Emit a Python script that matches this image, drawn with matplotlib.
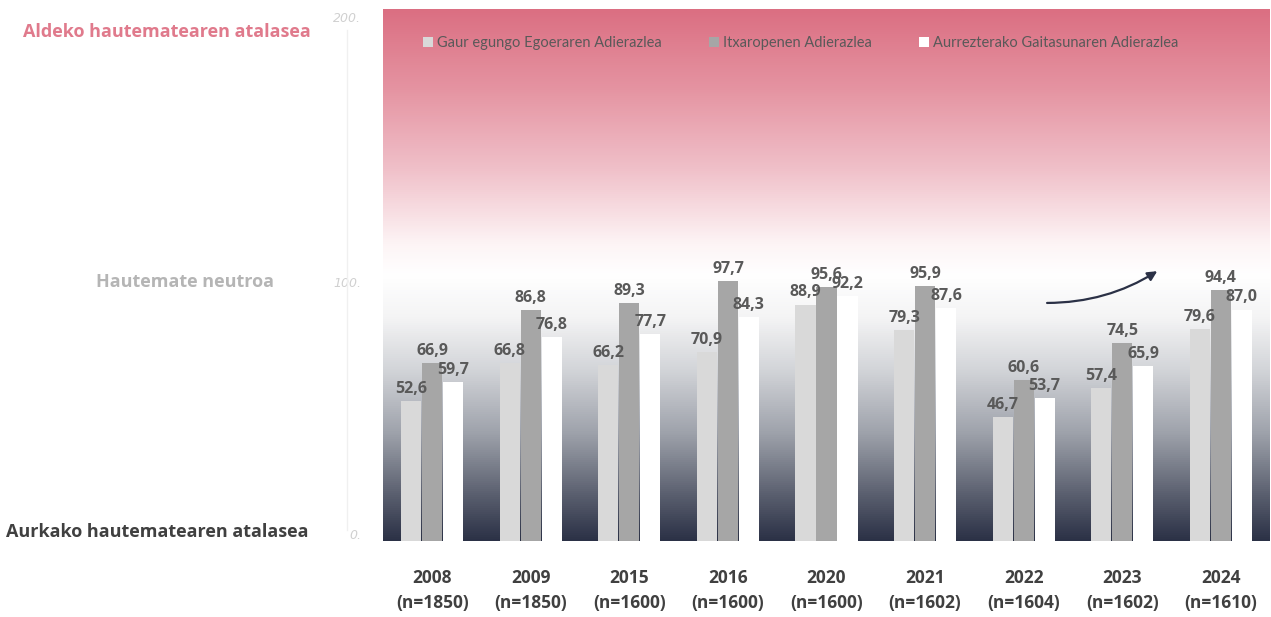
import numpy as np
import matplotlib.pyplot as plt
from matplotlib.colors import LinearSegmentedColormap
from matplotlib.patches import FancyArrowPatch
from matplotlib.lines import Line2D

# data
years = ['2008', '2009', '2015', '2016', '2020', '2021', '2022', '2023', '2024']
sizes = ['1850', '1850', '1600', '1600', '1600', '1602', '1604', '1602', '1610']
gaur = [52.6, 66.8, 66.2, 70.9, 88.9, 79.3, 46.7, 57.4, 79.6]
itxaropen = [66.9, 86.8, 89.3, 97.7, 95.6, 95.9, 60.6, 74.5, 94.4]
aurrezterako = [59.7, 76.8, 77.7, 84.3, 92.2, 87.6, 53.7, 65.9, 87.0]
series_names = ['Gaur egungo Egoeraren Adierazlea', 'Itxaropenen Adierazlea',
                'Aurrezterako Gaitasunaren Adierazlea']
colors = ['#d9d9d9', '#a6a6a6', '#ffffff']

fig = plt.figure(figsize=(12.71, 6.17), dpi=100)
ax = fig.add_axes([383 / 1271, 1 - 541 / 617, 887 / 1271, 532 / 617])

# background gradient (dark at the bottom, white in the middle, pink at the top)
bg = LinearSegmentedColormap.from_list('bg', [
    (0.0, '#2b3146'), (0.08, '#575c6c'), (0.2, '#9da1aa'), (0.32, '#d2d4d8'),
    (0.42, '#f4f4f5'), (0.5, '#ffffff'), (0.56, '#fdf4f5'), (0.7, '#f0c0c9'),
    (0.85, '#e594a2'), (1.0, '#db6f82')])
grad = np.linspace(0, 1, 512).reshape(-1, 1)
ax.imshow(grad, cmap=bg, aspect='auto', origin='lower',
          extent=[-0.5, len(years) - 0.5, 0, 200], zorder=0)

x = np.arange(len(years))
w = 0.205
off = 0.213
for i, (vals, c, name) in enumerate(zip([gaur, itxaropen, aurrezterako], colors, series_names)):
    pos = x + (i - 1) * off
    ax.bar(pos, vals, width=w, color=c, zorder=2, label=name)
    for px, v in zip(pos, vals):
        ax.annotate(f'{v:.1f}'.replace('.', ','), (px, v), xytext=(0, 3),
                    textcoords='offset points', ha='center', va='bottom',
                    fontsize=11.5, fontweight='bold', color='#595959',
                    family='Open Sans', zorder=3)

ax.set_xlim(-0.5, len(years) - 0.5)
ax.set_ylim(0, 200)
for s in ax.spines.values():
    s.set_visible(False)
ax.set_yticks([])
ax.set_xticks(x)
ax.set_xticklabels([f'{y}\n(n={n})' for y, n in zip(years, sizes)],
                   fontsize=12.5, fontweight='bold', color='#404040',
                   family='Open Sans', linespacing=1.5)
ax.tick_params(axis='x', length=0, pad=20)

# y tick labels, faint
for v, dy in zip([0, 100, 200], [4, -6, -7]):
    ax.annotate(f'{v}.', (-0.72, v), xytext=(0, dy), textcoords='offset points',
                ha='right', va='center', fontsize=9, style='italic',
                color='#d0d0d0', annotation_clip=False)
fig.add_artist(Line2D([347 / 1271, 347 / 1271], [1 - 530 / 617, 1 - 30 / 617],
                      color='#f0f0f0', lw=1))

# side labels
fig.text(167 / 1271, 1 - 32 / 617, 'Aldeko hautematearen atalasea', ha='center', va='center',
         fontsize=13, fontweight='bold', color='#e07a8c', family='Open Sans')
fig.text(185 / 1271, 1 - 282 / 617, 'Hautemate neutroa', ha='center', va='center',
         fontsize=13, fontweight='bold', color='#b5b5b5', family='Open Sans')
fig.text(157 / 1271, 1 - 532 / 617, 'Aurkako hautematearen atalasea', ha='center', va='center',
         fontsize=13, fontweight='bold', color='#404040', family='Open Sans')

# trend arrow
arrow = FancyArrowPatch((6.21, 89.5), (7.38, 102.0), connectionstyle='arc3,rad=0.15',
                        arrowstyle='-|>', mutation_scale=14, lw=1.6, color='#2b3146', zorder=4)
ax.add_patch(arrow)

leg = ax.legend(loc='center left', bbox_to_anchor=(0.03, 0.936), ncol=3, frameon=False,
                handlelength=0.7, handleheight=0.7, handletextpad=0.3,
                columnspacing=3.2, prop={'family': 'Lato', 'size': 10.5})
for t in leg.get_texts():
    t.set_color('#595959')
for h in leg.legend_handles:
    h.set_edgecolor('none')

fig.savefig('out.png', dpi=100)
